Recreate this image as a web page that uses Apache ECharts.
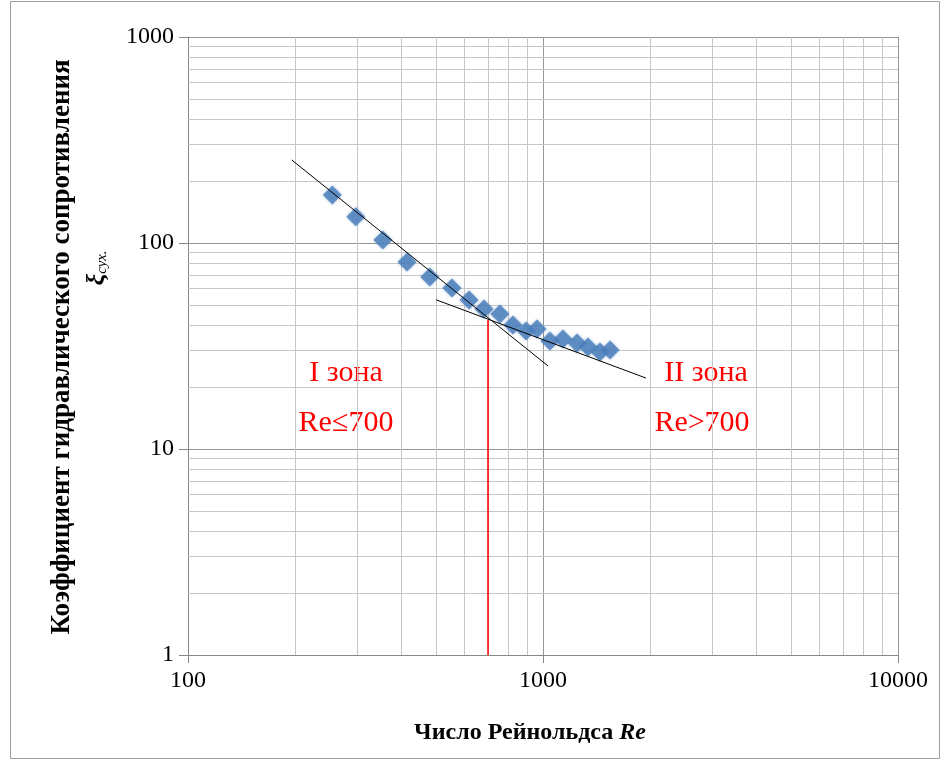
<!DOCTYPE html>
<html>
<head>
<meta charset="utf-8">
<script src="https://cdn.jsdelivr.net/npm/echarts@6/dist/echarts.min.js"></script>
<style>
  html, body { margin: 0; padding: 0; background: #fff; }
  #chart { width: 944px; height: 764px; }
</style>
</head>
<body>
<div id="chart"></div>
<script>
// измеренные точки: Re и коэффициент сопротивления
var reValues = [255, 297, 354, 414, 480, 554, 619, 682, 756, 823, 896, 962, 1046, 1138, 1247, 1339, 1447, 1545];
var xiValues = [171, 134, 103.4, 80.9, 68.4, 60.5, 52.9, 47.8, 45.2, 40.0, 37.4, 38.2, 33.4, 34.2, 32.7, 31.3, 29.6, 30.2];

// линии тренда (концы)
var trend1 = [[196, 253], [1033, 25.3]];
var trend2 = [[500, 53], [1950, 22.1]];
// граница зон Re = 700
var zoneLine = [[700, 42.3], [700, 1]];

// вспомогательная сетка
var minorX = [200, 300, 400, 500, 600, 700, 800, 900, 2000, 3000, 4000, 5000, 6000, 7000, 8000, 9000];
var minorY = [2, 3, 4, 5, 6, 7, 8, 9, 20, 30, 40, 50, 60, 70, 80, 90, 200, 300, 400, 500, 600, 700, 800, 900];

var points = [];
for (var i = 0; i < reValues.length; i++) {
    points.push([reValues[i], xiValues[i]]);
}

var gridMarks = [];
minorX.forEach(function (v) { gridMarks.push({ xAxis: v }); });
minorY.forEach(function (v) { gridMarks.push({ yAxis: v }); });

var serif = '"Liberation Serif", "Times New Roman", serif';

function plain(v) { return String(v); }

var myChart = echarts.init(document.getElementById('chart'));
var option = {
    backgroundColor: '#fff',
    animation: false,
    grid: { left: 188, right: 46, top: 37, bottom: 109 },
    xAxis: {
        type: 'log',
        min: 100,
        max: 10000,
        axisLine: { lineStyle: { color: '#868686', width: 1 } },
        axisTick: { show: true, length: 8, lineStyle: { color: '#868686' } },
        axisLabel: { color: '#000', fontFamily: serif, fontSize: 24, margin: 14, formatter: plain },
        splitLine: { show: true, lineStyle: { color: '#959595', width: 1 } }
    },
    yAxis: {
        type: 'log',
        min: 1,
        max: 1000,
        axisLine: { show: true, lineStyle: { color: '#868686', width: 1 } },
        axisTick: { show: true, length: 9, lineStyle: { color: '#868686' } },
        axisLabel: { color: '#000', fontFamily: serif, fontSize: 24, margin: 14, formatter: plain },
        splitLine: { show: true, lineStyle: { color: '#959595', width: 1 } }
    },
    series: [
        {
            type: 'line',
            data: [[100, 1]],
            symbol: 'none',
            silent: true,
            z: 1,
            lineStyle: { opacity: 0 },
            markLine: {
                silent: true,
                z: 1,
                symbol: ['none', 'none'],
                label: { show: false },
                lineStyle: { color: '#c6c6c6', type: 'solid', width: 1 },
                emphasis: { disabled: true },
                data: gridMarks
            }
        },
        {
            type: 'scatter',
            data: points,
            symbol: 'diamond',
            symbolSize: 19,
            itemStyle: { color: '#4a7ebb', shadowBlur: 3, shadowColor: 'rgba(74,126,187,0.6)' },
            z: 6
        },
        {
            type: 'line',
            data: trend1,
            symbol: 'none',
            lineStyle: { color: '#000', width: 1 },
            z: 7
        },
        {
            type: 'line',
            data: trend2,
            symbol: 'none',
            lineStyle: { color: '#000', width: 1 },
            z: 7
        },
        {
            type: 'line',
            data: zoneLine,
            symbol: 'none',
            lineStyle: { color: '#ff0000', width: 1.5 },
            z: 8
        }
    ],
    graphic: [
        {
            type: 'rect',
            shape: { x: 10.5, y: 1.5, width: 929, height: 757 },
            style: { fill: 'none', stroke: '#a0a0a0', lineWidth: 1 },
            silent: true
        },
        {
            type: 'text',
            x: 62, y: 347,
            rotation: Math.PI / 2,
            style: {
                text: 'Коэффициент гидравлического сопротивления',
                font: 'bold 27px ' + serif,
                fill: '#000',
                textAlign: 'center',
                textVerticalAlign: 'middle'
            }
        },
        {
            type: 'text',
            x: 97, y: 268,
            rotation: Math.PI / 2,
            style: {
                text: '{a|ξ}{b|сух.}',
                fill: '#000',
                textAlign: 'center',
                textVerticalAlign: 'middle',
                rich: {
                    a: { font: 'bold italic 26px ' + serif, fill: '#000' },
                    b: { font: 'italic 15px ' + serif, fill: '#000', padding: [10, 0, 0, 0] }
                }
            }
        },
        {
            type: 'text',
            x: 530, y: 733,
            style: {
                text: '{a|Число Рейнольдса }{b|Re}',
                textAlign: 'center',
                textVerticalAlign: 'middle',
                rich: {
                    a: { font: 'bold 24px ' + serif, fill: '#000' },
                    b: { font: 'bold italic 24px ' + serif, fill: '#000' }
                }
            }
        },
        {
            type: 'text', x: 346, y: 373,
            style: { text: 'I зона', font: '30px ' + serif, fill: '#ff0000', textAlign: 'center', textVerticalAlign: 'middle' }
        },
        {
            type: 'text', x: 346, y: 423,
            style: { text: 'Re≤700', font: '30px ' + serif, fill: '#ff0000', textAlign: 'center', textVerticalAlign: 'middle' }
        },
        {
            type: 'text', x: 706, y: 373,
            style: { text: 'II зона', font: '30px ' + serif, fill: '#ff0000', textAlign: 'center', textVerticalAlign: 'middle' }
        },
        {
            type: 'text', x: 702, y: 423,
            style: { text: 'Re>700', font: '30px ' + serif, fill: '#ff0000', textAlign: 'center', textVerticalAlign: 'middle' }
        }
    ]
};
myChart.setOption(option);
</script>
</body>
</html>
